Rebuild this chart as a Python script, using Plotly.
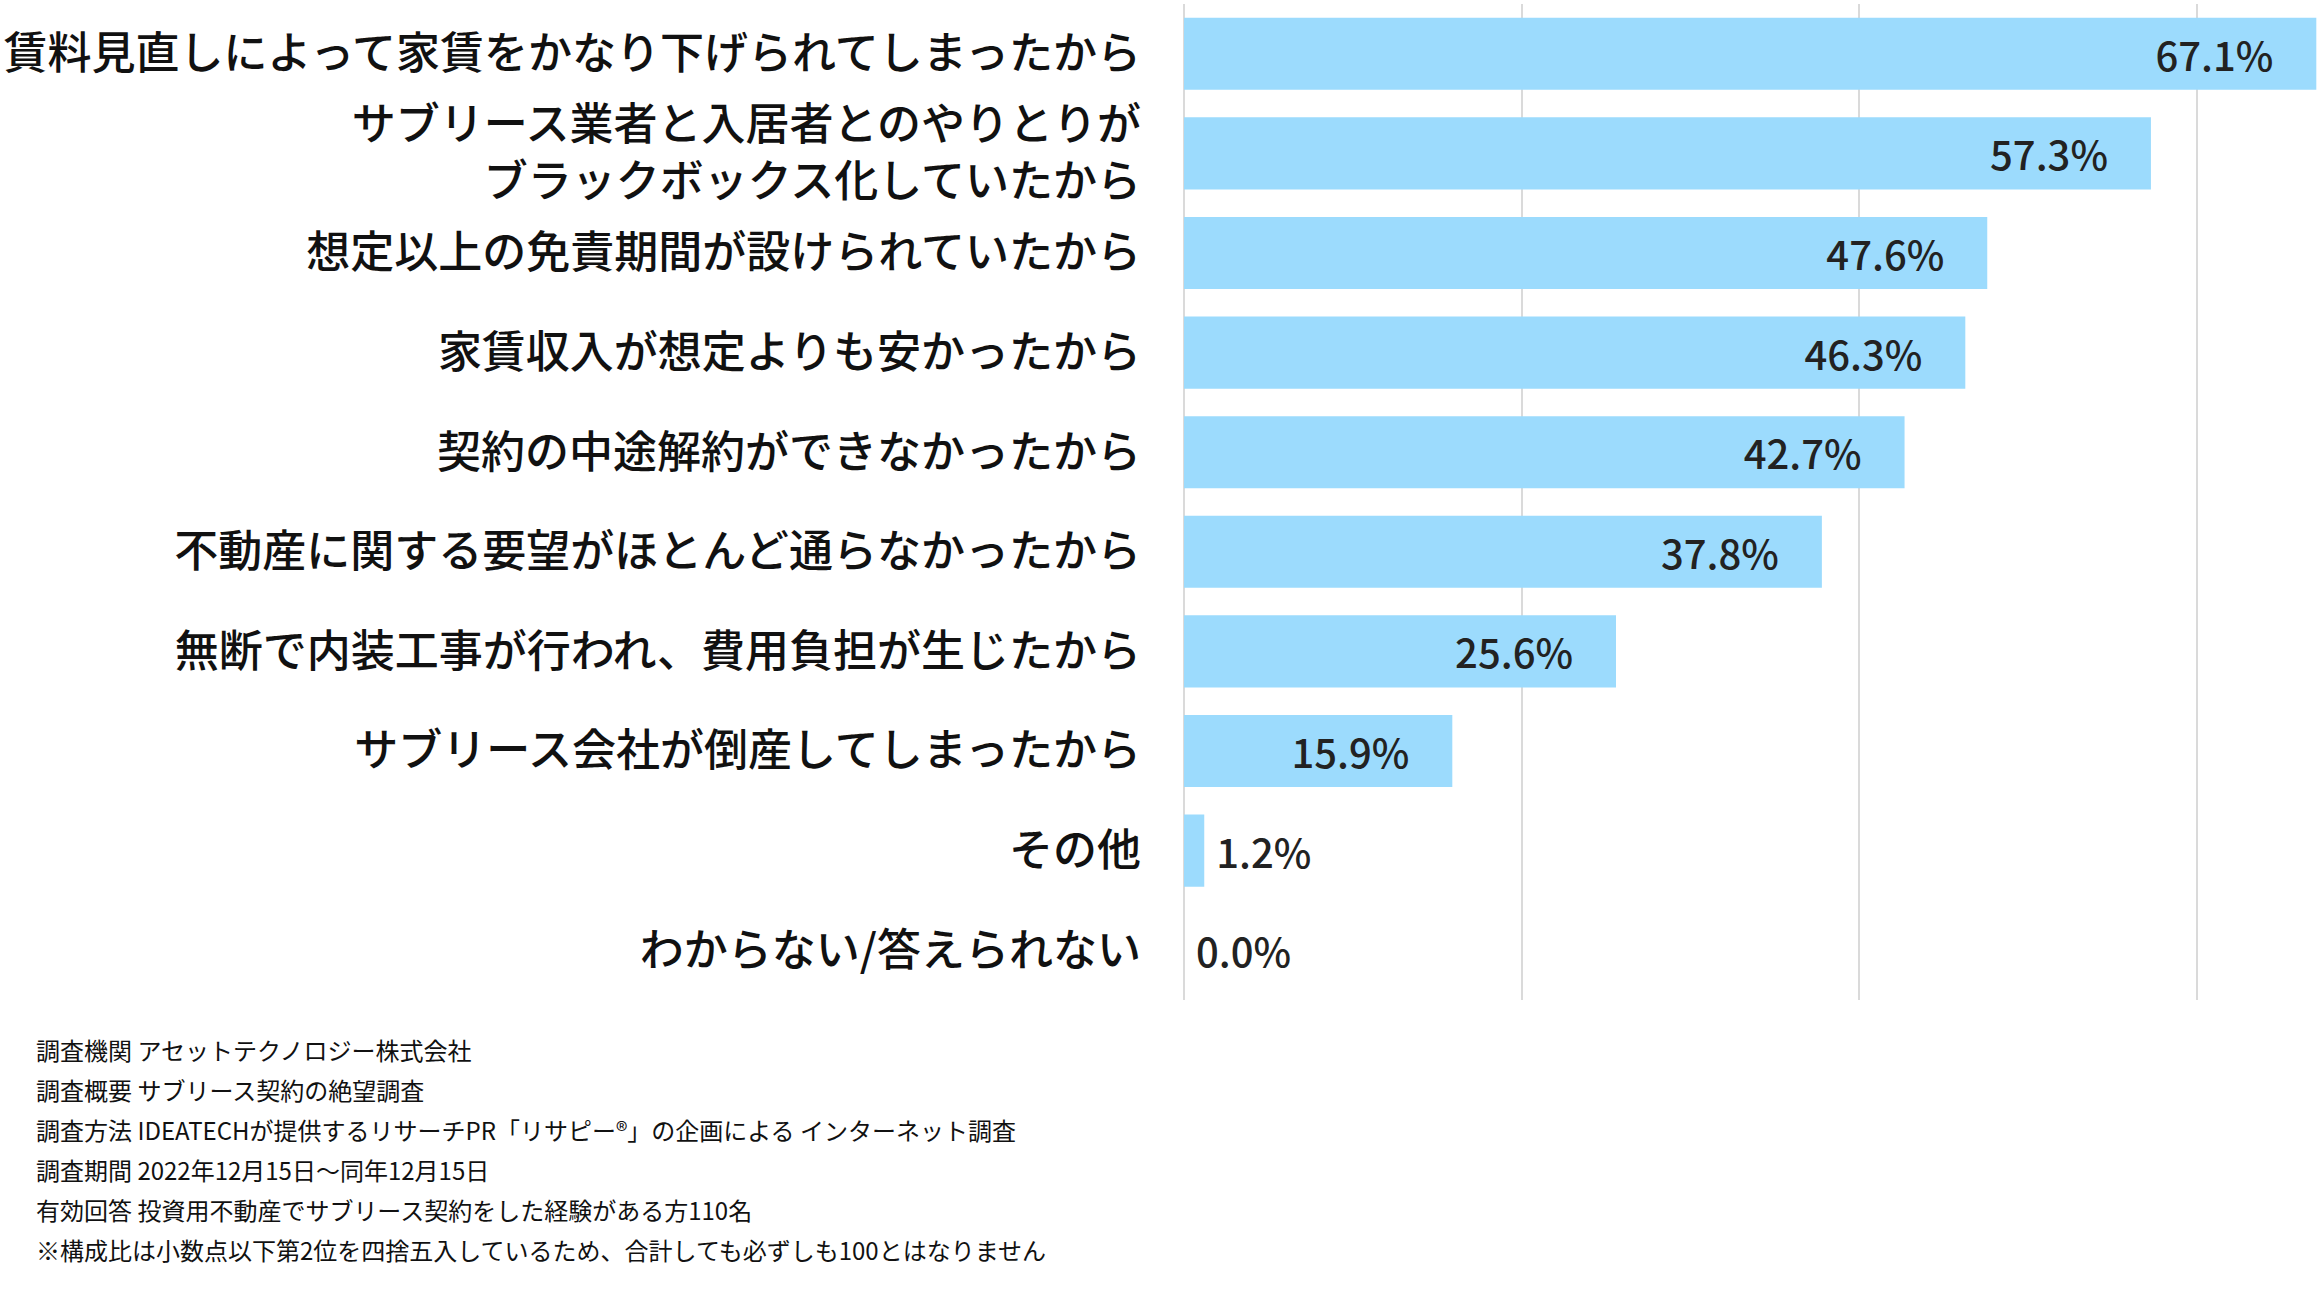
import plotly.graph_objects as go

categories = [
    "賃料見直しによって家賃をかなり下げられてしまったから",
    "サブリース業者と入居者とのやりとりが<br>ブラックボックス化していたから",
    "想定以上の免責期間が設けられていたから",
    "家賃収入が想定よりも安かったから",
    "契約の中途解約ができなかったから",
    "不動産に関する要望がほとんど通らなかったから",
    "無断で内装工事が行われ、費用負担が生じたから",
    "サブリース会社が倒産してしまったから",
    "その他",
    "わからない/答えられない",
]
values = [67.1, 57.3, 47.6, 46.3, 42.7, 37.8, 25.6, 15.9, 1.2, 0.0]

footnotes = [
    "調査機関 アセットテクノロジー株式会社",
    "調査概要 サブリース契約の絶望調査",
    "調査方法 IDEATECHが提供するリサーチPR「リサピー®」の企画による インターネット調査",
    "調査期間 2022年12月15日～同年12月15日",
    "有効回答 投資用不動産でサブリース契約をした経験がある方110名",
    "※構成比は小数点以下第2位を四捨五入しているため、合計しても必ずしも100とはなりません",
]

FONT = "Noto Sans CJK JP"
W, H = 2318, 1308
ML, MT, MB = 1184, 4, 308
PLOT_H = H - MT - MB

texts = []
positions = []
for v in values:
    if v >= 10:
        texts.append(f"{v:.1f}%\u2003")
        positions.append("inside")
    else:
        texts.append(f"\u00a0{v:.1f}%")
        positions.append("outside")

fig = go.Figure(
    go.Bar(
        y=categories,
        x=values,
        orientation="h",
        marker=dict(color="#9cdbfd", line=dict(width=0)),
        text=texts,
        textposition=positions,
        insidetextanchor="end",
        textfont=dict(family=FONT, size=40, color="#222222", weight=500),
        constraintext="none",
        cliponaxis=False,
        hoverinfo="skip",
    )
)

fig.update_layout(
    width=W,
    height=H,
    margin=dict(l=ML, r=0, t=MT, b=MB, autoexpand=False),
    paper_bgcolor="white",
    plot_bgcolor="white",
    bargap=0.276,
    showlegend=False,
    font=dict(family=FONT, color="#111111"),
)

fig.update_xaxes(
    range=[0, 67.2],
    dtick=20,
    showgrid=True,
    gridcolor="#dadada",
    gridwidth=2,
    zeroline=True,
    zerolinecolor="#dadada",
    zerolinewidth=2,
    showticklabels=False,
    ticks="",
    fixedrange=True,
)

fig.update_yaxes(
    autorange="reversed",
    showgrid=False,
    zeroline=False,
    ticks="",
    tickfont=dict(family=FONT, size=44, color="#111111", weight=500),
    ticklabelstandoff=42,
    automargin=False,
    fixedrange=True,
)

line_y0 = 1049
line_step = 40
for i, line in enumerate(footnotes):
    py = line_y0 + i * line_step
    fig.add_annotation(
        text=line,
        xref="paper",
        yref="paper",
        x=-ML / (W - ML),
        y=(PLOT_H + MT - py) / PLOT_H,
        xanchor="left",
        yanchor="middle",
        xshift=34,
        showarrow=False,
        font=dict(family=FONT, size=24, color="#111111"),
    )

fig.write_html("out.html")
